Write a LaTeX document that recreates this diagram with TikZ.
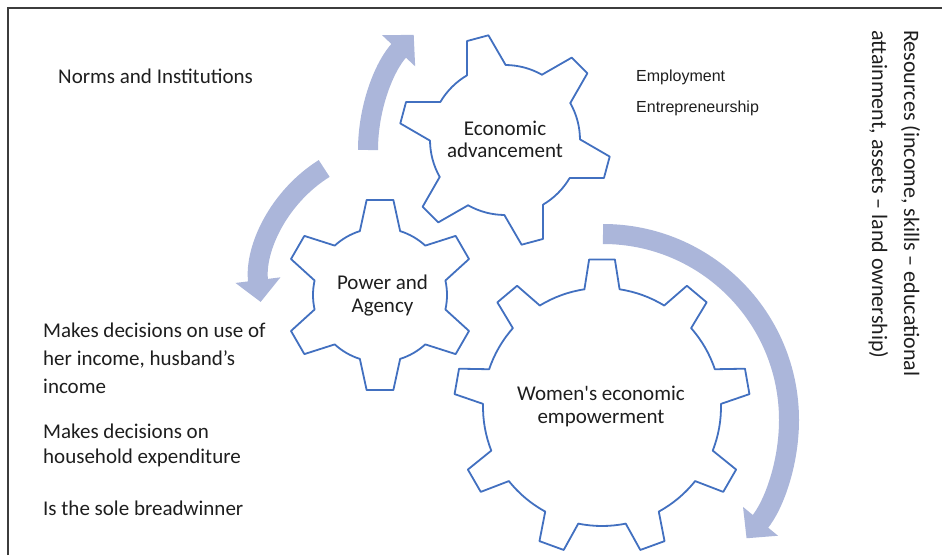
\documentclass[tikz,border=0pt]{standalone}
\usepackage{fontspec}
\setmainfont{Carlito}
\newfontfamily\arialfont{Liberation Sans}
\usetikzlibrary{arrows.meta}
\definecolor{gearblue}{RGB}{66,112,192}
\definecolor{arrowblue}{RGB}{171,182,218}
\definecolor{txtc}{RGB}{30,30,30}
\definecolor{framec}{RGB}{60,60,60}
\tikzset{
  gearline/.style={draw=gearblue, line width=1.8pt, fill=white, line join=round},
  cyclearrow/.style={draw=arrowblue, line width=20pt, -{Triangle[width=44pt,length=22pt]}},
  geartext/.style={font=\fontsize{21}{22.5}\selectfont, text=txtc, inner sep=0pt, align=center, anchor=base},
  sidetext/.style={font=\fontsize{21}{28}\selectfont, text=txtc, inner sep=0pt, align=left, anchor=base west},
  smalltext/.style={font=\arialfont\fontsize{16}{18}\selectfont, text=txtc, inner sep=0pt, anchor=base west},
  framel/.style={draw=framec, line width=1.5pt}
}
% name, cx, cy, teeth, first tooth angle, tip radius, root radius, tip half-angle, base half-angle
\newcommand{\mygear}[9]{%
  \begin{scope}[shift={(#2,#3)}]
    \pgfmathsetmacro{\gstep}{360/#4}
    \draw[gearline] ({#5-\gstep+#9}:#7)
      \foreach \i in {1,...,#4}{
        arc[start angle={#5+(\i-2)*\gstep+#9}, end angle={#5+(\i-1)*\gstep-#9}, radius=#7]
        -- ({#5+(\i-1)*\gstep-#8}:#6) -- ({#5+(\i-1)*\gstep+#8}:#6)
        -- ({#5+(\i-1)*\gstep+#9}:#7)
      } -- cycle;
    \coordinate (#1) at (0,0);
  \end{scope}}
\begin{document}
\begin{tikzpicture}[x=1pt,y=1pt]
\useasboundingbox (0,0) rectangle (942,555);
\draw[framel] (8,0) -- (8,547) -- (942,547);

% arrow centres
\coordinate (c1) at (536,405);
\coordinate (c2) at (397,270);
\coordinate (c3) at (603,135);
\draw[cyclearrow] ([shift={(180:168)}]c1) arc[start angle=180, end angle=136.7, radius=168];
\draw[cyclearrow] ([shift={(122:137.4)}]c2) arc[start angle=122, end angle=187.1, radius=137.4];
\draw[cyclearrow] ([shift={(90:186)}]c3) arc[start angle=90, end angle=-39.5, radius=186];

% gears
\mygear{geconomic}{505}{415}{6}{-15}{106}{75}{6}{15.5}
\mygear{gpower}{380}{260}{6}{90}{96}{67}{8}{17.5}
\mygear{gwomen}{602}{148}{9}{90}{148}{119}{5}{8.5}

\node[geartext] (econ) at (505,397) {Economic\\advancement};
\node[geartext] (power) at (382.5,243) {Power and\\Agency};
\node[geartext] (women) at (601,132) {Women\textquotesingle s economic\\empowerment};

\node[sidetext] (norms) at (58,471) {Norms and Institutions};
\node[smalltext] (employ) at (636,473) {Employment};
\node[smalltext] (entre) at (636,442) {Entrepreneurship};
\node[font=\fontsize{22}{32}\selectfont, text=txtc, inner sep=0pt, align=left, anchor=base west, rotate=-90] (resources) at (872,525)
  {Resources (income, skills – educational\\attainment, assets – land ownership)};

\node[sidetext] (dec1) at (43,162) {Makes decisions on use of\\her income, husband’s\\income};
\node[sidetext, font=\fontsize{21}{25}\selectfont] (dec2) at (43,92) {Makes decisions on\\household expenditure};
\node[sidetext] (bread) at (43,40) {Is the sole breadwinner};
\end{tikzpicture}
\end{document}
